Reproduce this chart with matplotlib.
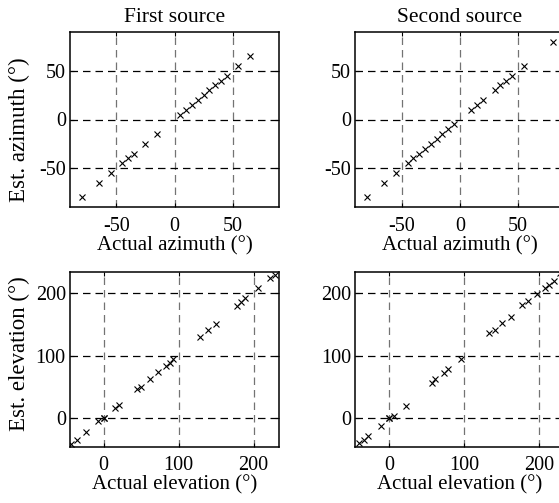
import matplotlib
matplotlib.use("Agg")
import matplotlib.pyplot as plt

plt.rcParams['font.family'] = ['Liberation Serif', 'DejaVu Serif']
plt.rcParams['axes.unicode_minus'] = False

# azimuth, first source
az1_actual = [-80, -65, -55, -45, -40, -35, -25, -15, 5, 10, 15, 20, 25, 30, 35, 40, 45, 55, 65]
az1_est = [-80, -65, -55, -45, -40, -35, -25, -15, 5, 10, 15, 20, 25, 30, 35, 40, 45, 55, 65]

# azimuth, second source
az2_actual = [-80, -65, -55, -45, -40, -35, -30, -25, -20, -15, -10, -5, 10, 15, 20, 30, 35, 40, 45, 55, 80]
az2_est = [-80, -65, -55, -45, -40, -35, -30, -25, -20, -15, -10, -5, 10, 15, 20, 30, 35, 40, 45, 55, 80]

# elevation, first source
el1_actual = [-43, -35, -23, -7, 0, 0, 15, 20, 45, 50, 62, 73, 83, 88, 93, 128, 139, 150,
              178, 183, 188, 206, 222, 229]
el1_est = [-41, -34, -22, -5, 0, 1, 16, 21, 46, 50, 62, 73, 84, 88, 94, 129, 140, 151,
           179, 185, 191, 208, 224, 229]

# elevation, second source
el2_actual = [-40, -33, -28, -11, 0, 0, 6, 23, 58, 61, 73, 79, 96, 134, 141, 151, 163,
              178, 185, 197, 208, 214, 220, 228]
el2_est = [-40, -35, -29, -12, 0, 1, 4, 20, 57, 62, 72, 78, 94, 136, 141, 152, 162,
           180, 187, 198, 208, 213, 219, 231]

fig = plt.figure(figsize=(5.59, 5.03), dpi=100)

# axes boxes in pixels of the 559x503 picture (right column runs past the edge)
W, H = 559.0, 503.0
ax_w, ax_h = 209 / W, 175 / H
col_x = [70 / W, 355.3 / W]
row_y = [1 - 207 / H, 1 - 446.5 / H]

panels = [
    (0, 0, az1_actual, az1_est, (-90, 90), [-50, 0, 50]),
    (1, 0, az2_actual, az2_est, (-90, 90), [-50, 0, 50]),
    (0, 1, el1_actual, el1_est, (-45, 234), [0, 100, 200]),
    (1, 1, el2_actual, el2_est, (-45, 234), [0, 100, 200]),
]

axes = {}
for col, row, xs, ys, lim, ticks in panels:
    ax = fig.add_axes([col_x[col], row_y[row], ax_w, ax_h])
    ax.plot(xs, ys, 'x', color='black', markersize=4, markeredgewidth=0.8)
    ax.set_xlim(lim)
    ax.set_ylim(lim)
    ax.set_xticks(ticks)
    ax.set_yticks(ticks)
    ax.set_axisbelow(True)
    ax.xaxis.grid(True, linestyle=(0, (6, 4)), color='0.45', linewidth=0.9)
    ax.yaxis.grid(True, linestyle=(0, (6, 4)), color='black', linewidth=0.9)
    ax.tick_params(direction='in', length=3, width=0.8, top=True, right=True,
                   labelsize=14.5)
    ax.tick_params(axis='x', pad=7)
    ax.tick_params(axis='y', pad=3)
    for sp in ax.spines.values():
        sp.set_linewidth(1.1)
    axes[(col, row)] = ax

axes[(0, 0)].set_title("First source", fontsize=15.5, pad=7)
axes[(1, 0)].set_title("Second source", fontsize=15.5, pad=7)
axes[(0, 0)].set_ylabel("Est. azimuth (°)", fontsize=16.5)
axes[(0, 0)].yaxis.set_label_coords(-0.19, 0.44)
axes[(0, 1)].set_ylabel("Est. elevation (°)", fontsize=16.5)
axes[(0, 1)].yaxis.set_label_coords(-0.19, 0.53)
for col in (0, 1):
    axes[(col, 0)].set_xlabel("Actual azimuth (°)", fontsize=15, labelpad=0)
    axes[(col, 1)].set_xlabel("Actual elevation (°)", fontsize=15, labelpad=0)

fig.savefig("out.png", dpi=100)
